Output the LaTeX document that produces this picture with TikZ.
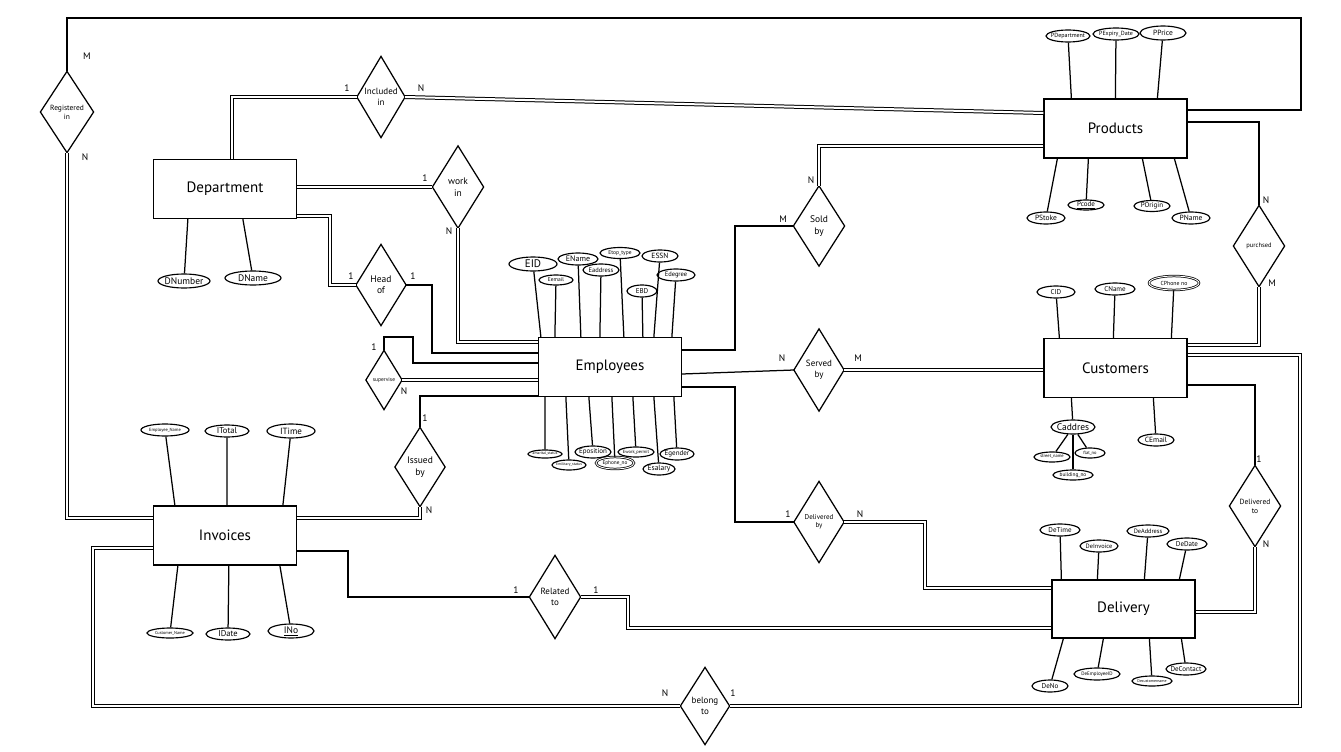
\documentclass[tikz,border=0pt]{standalone}
\usepackage{fontspec}
\setmainfont{PT Sans}
\usetikzlibrary{shapes.geometric,calc}
\newcommand{\relship}[6][10]{%
  \node[relt, minimum width=#4pt, minimum height=#5pt, fs=#1] (#2) at (#3) {#6};
  \draw (#2.north) -- (#2.east) -- (#2.south) -- (#2.west) -- cycle;}
\begin{document}
\begin{tikzpicture}[x=1pt,y=-1pt, line width=1.25pt,
  fs/.style={font={\fontsize{#1}{#1}\selectfont\baselineskip=1.2em}},
  ent/.style={draw, minimum width=143pt, minimum height=59pt, inner sep=0pt, fs=15},
  relt/.style={inner sep=0pt, align=center},
  attr/.style={draw, ellipse, inner ysep=0pt, inner xsep=-4pt, line width=1.15pt},
  mv/.style={attr, double, double distance=0.9pt, line width=0.75pt},
  sz/.style n args={3}{minimum width=#1pt, minimum height=#2pt, fs=#3},
  dbl/.style={double, double distance=2pt, line width=1pt},
  card/.style={fs=9.5, inner sep=0pt}]

\useasboundingbox (0,0) rectangle (1341,752);
\fill[white] (0,0) rectangle (1341,752);

% ---------- entities ----------
\node[ent] (prod)  at (1115.5,128.5) {Products};
\node[ent] (dept)  at (225,189)      {Department};
\node[ent] (emp)   at (610,367)      {Employees};
\node[ent] (cust)  at (1115.5,368)   {Customers};
\node[ent] (inv)   at (225,535.5)    {Invoices};
\node[ent, minimum height=58pt] (deliv) at (1123.5,609) {Delivery};

% ---------- relationships ----------
\relship[7.5]{reg}{67,112}{52}{80}{Registered\\in}
\relship[9]{inc}{381,97}{47}{80}{Included\\in}
\relship[9.5]{work}{458,187}{50}{81}{work\\in}
\relship[9.5]{head}{381,285}{49}{80}{Head\\of}
\relship[5.5]{sup}{384,380}{35}{58}{supervise}
\relship[9.5]{iss}{420,467}{49}{78}{Issued\\by}
\relship[9.5]{sold}{819,226}{50}{79}{Sold\\by}
\relship[9]{serv}{819,370}{49}{81}{Served\\by}
\relship[7]{delby}{819,522}{49}{80}{Delivered\\by}
\relship[6.5]{purch}{1259,246}{50}{80}{purchsed}
\relship[7.5]{delto}{1255,506}{50}{80}{Delivered\\to}
\relship[9]{rel}{555,597}{50}{82}{Related\\to}
\relship[9]{bel}{705,706}{48}{76}{belong\\to}

% ---------- relationship connectors ----------
\draw (reg.north) |- (1301,18) -- (1301,110) -- (prod.east |- 0,110);
\draw[dbl] (reg.south) |- (inv.west |- 0,518);

\draw[dbl] (dept.north -| 232,0) |- (inc.west);
\draw[dbl] (inc.east) -- (prod.west |- 0,113);

\draw[dbl] (dept.east |- work.west) -- (work.west);
\draw[dbl] (work.south) |- (emp.west |- 0,342);

\draw[dbl] (dept.east |- 0,216) -| (330,285) -- (head.west);
\draw (head.east) -| (432,353) -- (emp.west |- 0,353);

\draw (sup.north) |- (413,337) |- (emp.west |- 0,363);
\draw[dbl] (sup.east) -- (emp.west |- sup.east);

\draw (iss.north) |- (emp.west |- 0,396);
\draw[dbl] (iss.south) |- (inv.east |- 0,518);

\draw[dbl] (prod.west |- 0,146) -| (sold.north);
\draw (sold.west) -| (735,350) -- (emp.east |- 0,350);

\draw (emp.east |- 0,374) -- (serv.west);
\draw[dbl] (serv.east) -- (cust.west |- serv.east);

\draw (emp.east |- 0,387) -| (735,522) -- (delby.west);
\draw[dbl] (delby.east) -| (925,588) -- (deliv.west |- 0,588);

\draw (prod.east |- 0,122) -| (purch.north);
\draw[dbl] (purch.south) |- (cust.east |- 0,345);

\draw (cust.east |- 0,385) -| (delto.north);
\draw[dbl] (delto.south) |- (deliv.east |- 0,612);

\draw (inv.east |- 0,551) -| (348,597) -- (rel.west);
\draw[dbl] (rel.east) -| (628,628) -- (deliv.west |- 0,628);

\draw[dbl] (cust.east |- 0,355) -| (1300,706) -- (bel.east);
\draw[dbl] (bel.west) -| (93,548) -- (inv.west |- 0,548);

% ---------- cardinalities ----------
\node[card] (k1)  at (87,56)    {M};
\node[card] (k2)  at (85,157)   {N};
\node[card] (k3)  at (347,88)   {1};
\node[card] (k4)  at (421,88)   {N};
\node[card] (k5)  at (425,178)  {1};
\node[card] (k6)  at (449,231)  {N};
\node[card] (k7)  at (351,276)  {1};
\node[card] (k8)  at (413,276)  {1};
\node[card] (k9)  at (374,347)  {1};
\node[card] (k10) at (404,391)  {N};
\node[card] (k11) at (425,418)  {1};
\node[card] (k12) at (429,510)  {N};
\node[card] (k13) at (811,180)  {N};
\node[card] (k14) at (783,219)  {M};
\node[card] (k15) at (782,358)  {N};
\node[card] (k16) at (858,358)  {M};
\node[card] (k17) at (788,514)  {1};
\node[card] (k18) at (860,514)  {N};
\node[card] (k19) at (1266,200) {N};
\node[card] (k20) at (1272,283) {M};
\node[card] (k21) at (1259,459) {1};
\node[card] (k22) at (1266,544) {N};
\node[card] (k23) at (516,590)  {1};
\node[card] (k24) at (596,590)  {1};
\node[card] (k25) at (665,693)  {N};
\node[card] (k26) at (733,693)  {1};

% ---------- Products attributes ----------
\node[attr, sz={44}{12}{6}]   (pdep)  at (1068,36)  {PDepartment};
\node[attr, sz={46}{12}{6}]   (pexp)  at (1116,34)  {PExpiry\_Date};
\node[attr, sz={46}{14}{7.5}] (ppr)   at (1163,33)  {PPrice};
\node[attr, sz={38}{12}{7.5}] (pst)   at (1046,218) {PStoke};
\node[attr, sz={36}{10}{7}]   (pcode) at (1086,205) {\underline{Pcode}};
\node[attr, sz={36}{11}{7}]   (por)   at (1152,206) {POrigin};
\node[attr, sz={38}{12}{7.5}] (pnm)   at (1191,218) {PName};
\draw (pdep)  -- ($(prod.north west)+(28,0)$);
\draw (pexp)  -- ($(prod.north west)+(72,0)$);
\draw (ppr)   -- ($(prod.north west)+(114,0)$);
\draw (pst)   -- ($(prod.south west)+(14,0)$);
\draw (pcode) -- ($(prod.south west)+(45,0)$);
\draw (por)   -- ($(prod.south west)+(99,0)$);
\draw (pnm)   -- ($(prod.south west)+(131,0)$);

% ---------- Department attributes ----------
\node[attr, sz={52}{14}{9.5}] (dnum) at (184,281) {DNumber};
\node[attr, sz={56}{14}{9.5}] (dnam) at (253,278) {DName};
\draw (dnum) -- ($(dept.south west)+(35,0)$);
\draw (dnam) -- ($(dept.south west)+(90,0)$);

% ---------- Employees attributes ----------
\node[attr, sz={48}{14}{11}]  (eid)   at (533,264) {EID};
\node[attr, sz={34}{10}{5.5}] (eem)   at (556,280) {Eemail};
\node[attr, sz={40}{12}{8}]   (enm)   at (578,259) {EName};
\node[attr, sz={36}{12}{6.5}] (eadd)  at (601,270) {Eaddress};
\node[attr, sz={40}{11}{5.5}] (etop)  at (620,253) {Etop\_type};
\node[attr, sz={30}{12}{7}]   (ebd)   at (642,291) {EBD};
\node[attr, sz={36}{12}{7.5}] (essn)  at (660,256) {ESSN};
\node[attr, sz={38}{12}{6.5}] (edeg)  at (676,275) {Edegree};
\draw (eid)  -- ($(emp.north west)+(3,0)$);
\draw (eem)  -- ($(emp.north west)+(17,0)$);
\draw (enm)  -- ($(emp.north west)+(43,0)$);
\draw (eadd) -- ($(emp.north west)+(62,0)$);
\draw (etop) -- ($(emp.north west)+(86,0)$);
\draw (ebd)  -- ($(emp.north west)+(105,0)$);
\draw (essn) -- ($(emp.north west)+(116,0)$);
\draw (edeg) -- ($(emp.north west)+(134,0)$);

\node[attr, sz={34}{8}{3.8}]  (emar)  at (545,454) {amarital\_status};
\node[attr, sz={34}{10}{3.8}] (emil)  at (569,465) {Emilitary\_status};
\node[attr, sz={36}{12}{7}]   (epos)  at (593,452) {Eposition};
\node[mv,   sz={38}{12}{5.3}] (eph)   at (615,463) {Ephone\_no};
\node[attr, sz={36}{10}{4.5}] (ewp)   at (636,452) {Ework\_permit};
\node[attr, sz={32}{12}{7.5}] (esal)  at (659,469) {Esalary};
\node[attr, sz={34}{12}{7}]   (egen)  at (677,454) {Egender};
\draw (emar) -- ($(emp.south west)+(7,0)$);
\draw (emil) -- ($(emp.south west)+(28,0)$);
\draw (epos) -- ($(emp.south west)+(51,0)$);
\draw (eph)  -- ($(emp.south west)+(74,0)$);
\draw (ewp)  -- ($(emp.south west)+(95,0)$);
\draw (esal) -- ($(emp.south west)+(116,0)$);
\draw (egen) -- ($(emp.south west)+(136,0)$);

% ---------- Customers attributes ----------
\node[attr, sz={38}{12}{7}]   (cid)   at (1056,292) {CID};
\node[attr, sz={40}{12}{7}]   (cnm)   at (1115,289) {CName};
\node[mv,   sz={50}{14}{5.8}] (cph)   at (1174,283) {CPhone no};
\node[attr, sz={44}{14}{9.5}] (cadd)  at (1073,427) {Caddres};
\node[attr, sz={36}{12}{7.5}] (cem)   at (1156,440) {CEmail};
\node[attr, sz={36}{10}{4.5}] (cstr)  at (1052,457) {street\_name};
\node[attr, sz={30}{10}{4.5}] (cflat) at (1090,453) {flat\_no};
\node[attr, sz={40}{10}{5.3}] (cbld)  at (1073,475) {building\_no};
\draw (cid)  -- ($(cust.north west)+(16,0)$);
\draw (cnm)  -- ($(cust.north west)+(70,0)$);
\draw (cph)  -- ($(cust.north west)+(128,0)$);
\draw (cadd) -- ($(cust.south west)+(28,0)$);
\draw (cem)  -- ($(cust.south west)+(110,0)$);
\draw (cadd) -- (cstr);
\draw (cadd) -- (cflat);
\draw (cadd) -- (cbld);

% ---------- Delivery attributes ----------
\node[attr, sz={40}{12}{7}]   (dtime) at (1060,530) {DeTime};
\node[attr, sz={38}{12}{6.3}] (dinv)  at (1099,546) {DeInvoice};
\node[attr, sz={42}{12}{6.3}] (daddr) at (1148,531) {DeAddress};
\node[attr, sz={40}{12}{7}]   (ddate) at (1187,544) {DeDate};
\node[attr, sz={36}{12}{7}]   (dno)   at (1050,686) {DeNo};
\node[attr, sz={46}{12}{5}]   (demp)  at (1097,674) {DeEmployeeID};
\node[attr, sz={40}{10}{3.9}] (dcus)  at (1152,681) {Decustomername};
\node[attr, sz={40}{12}{7}]   (dcon)  at (1186,669) {DeContact};
\draw (dtime) -- ($(deliv.north west)+(10,0)$);
\draw (dinv)  -- ($(deliv.north west)+(46,0)$);
\draw (daddr) -- ($(deliv.north west)+(93,0)$);
\draw (ddate) -- ($(deliv.north west)+(128,0)$);
\draw (dno)   -- ($(deliv.south west)+(12,0)$);
\draw (demp)  -- ($(deliv.south west)+(52,0)$);
\draw (dcus)  -- ($(deliv.south west)+(98,0)$);
\draw (dcon)  -- ($(deliv.south west)+(130,0)$);

% ---------- Invoices attributes ----------
\node[attr, sz={48}{12}{4.5}] (iemp)  at (165,430) {Employee\_Name};
\node[attr, sz={44}{12}{8.5}] (itot)  at (227,431) {ITotal};
\node[attr, sz={48}{14}{9}]   (itim)  at (291,431) {ITime};
\node[attr, sz={46}{10}{4.3}] (icus)  at (170,633) {Customer\_Name};
\node[attr, sz={44}{12}{8.5}] (idat)  at (228,634) {IDate};
\node[attr, sz={46}{14}{9.5}] (ino)   at (291,631) {\underline{INo}};
\draw (iemp) -- ($(inv.north west)+(22,0)$);
\draw (itot) -- ($(inv.north west)+(74,0)$);
\draw (itim) -- ($(inv.north west)+(130,0)$);
\draw (icus) -- ($(inv.south west)+(25,0)$);
\draw (idat) -- ($(inv.south west)+(76,0)$);
\draw (ino)  -- ($(inv.south west)+(127,0)$);
\end{tikzpicture}
\end{document}
